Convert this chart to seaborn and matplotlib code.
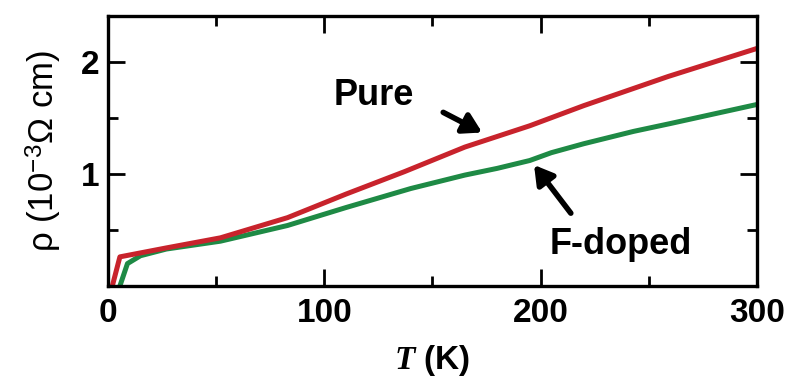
import matplotlib
matplotlib.use("Agg")
import matplotlib.pyplot as plt
import numpy as np
import pandas as pd
import seaborn as sns

# Resistivity vs temperature, pure and F-doped samples
temp_pure = [2, 5.5, 27, 52, 83, 110, 137, 165, 195, 220, 259, 300]
rho_pure = [0.0, 0.26, 0.34, 0.43, 0.61, 0.82, 1.02, 1.24, 1.43, 1.61, 1.87, 2.12]

temp_fdoped = [5.5, 9, 15, 27, 52, 83, 110, 140, 165, 180, 195, 205, 220, 243, 260, 300]
rho_fdoped = [0.0, 0.20, 0.27, 0.33, 0.40, 0.54, 0.70, 0.87, 0.99, 1.05, 1.12, 1.19, 1.27, 1.38, 1.45, 1.62]

x_ticks = [0, 100, 200, 300]
y_ticks = [1, 2]

sns.set_style("ticks")
plt.rcParams["font.family"] = ["Liberation Sans", "DejaVu Sans"]
plt.rcParams["mathtext.fontset"] = "custom"
plt.rcParams["mathtext.rm"] = "Liberation Sans"
plt.rcParams["mathtext.it"] = "Liberation Serif:italic:bold"
plt.rcParams["mathtext.bf"] = "Liberation Sans:bold"
plt.rcParams["text.color"] = "black"
plt.rcParams["axes.labelcolor"] = "black"
plt.rcParams["xtick.color"] = "black"
plt.rcParams["ytick.color"] = "black"

df = pd.concat([
    pd.DataFrame({"T": temp_pure, "rho": rho_pure, "sample": "Pure"}),
    pd.DataFrame({"T": temp_fdoped, "rho": rho_fdoped, "sample": "F-doped"}),
])

fig = plt.figure(figsize=(7.9, 3.79), dpi=100)
ax = fig.add_axes([0.1367, 0.2454, 0.8213, 0.7124])

sns.lineplot(data=df, x="T", y="rho", hue="sample", hue_order=["F-doped", "Pure"],
             palette={"Pure": "#c8232c", "F-doped": "#1e8a45"},
             linewidth=3.6, sort=False, estimator=None, legend=False, ax=ax)

ax.set_xlim(0, 300)
ax.set_ylim(0, 2.41)
ax.set_xticks(x_ticks)
ax.set_xticks([50, 150, 250], minor=True)
ax.set_yticks(y_ticks)
ax.set_yticks([0.5, 1.5], minor=True)
ax.set_xticklabels([str(v) for v in x_ticks], fontsize=24, fontweight="bold")
ax.set_yticklabels([str(v) for v in y_ticks], fontsize=24, fontweight="bold")
ax.tick_params(which="both", direction="in", top=True, right=True, width=2, color="black")
ax.tick_params(which="major", length=12)
ax.tick_params(axis="x", which="major", pad=9)
ax.tick_params(axis="y", which="major", pad=6)
ax.tick_params(which="minor", length=7)
for s in ax.spines.values():
    s.set_linewidth(2.4)
    s.set_color("black")

ax.set_xlabel(r"$\mathit{T}$ (K)", fontsize=24, fontweight="bold", labelpad=10)
ax.set_ylabel(r"ρ (10$^{-3}$Ω cm)", fontsize=25, labelpad=12)

ax.text(123, 1.70, "Pure", fontsize=26, fontweight="bold", ha="center", va="center")
ax.text(237, 0.37, "F-doped", fontsize=26, fontweight="bold", ha="center", va="center")

arrow = dict(arrowstyle="-|>,head_length=1.1,head_width=0.65", color="black", lw=4,
             shrinkA=0, shrinkB=0)
ax.annotate("", xy=(173, 1.37), xytext=(155, 1.55), arrowprops=arrow)
ax.annotate("", xy=(197, 1.08), xytext=(214, 0.65), arrowprops=arrow)

fig.savefig("out.png", dpi=100)
